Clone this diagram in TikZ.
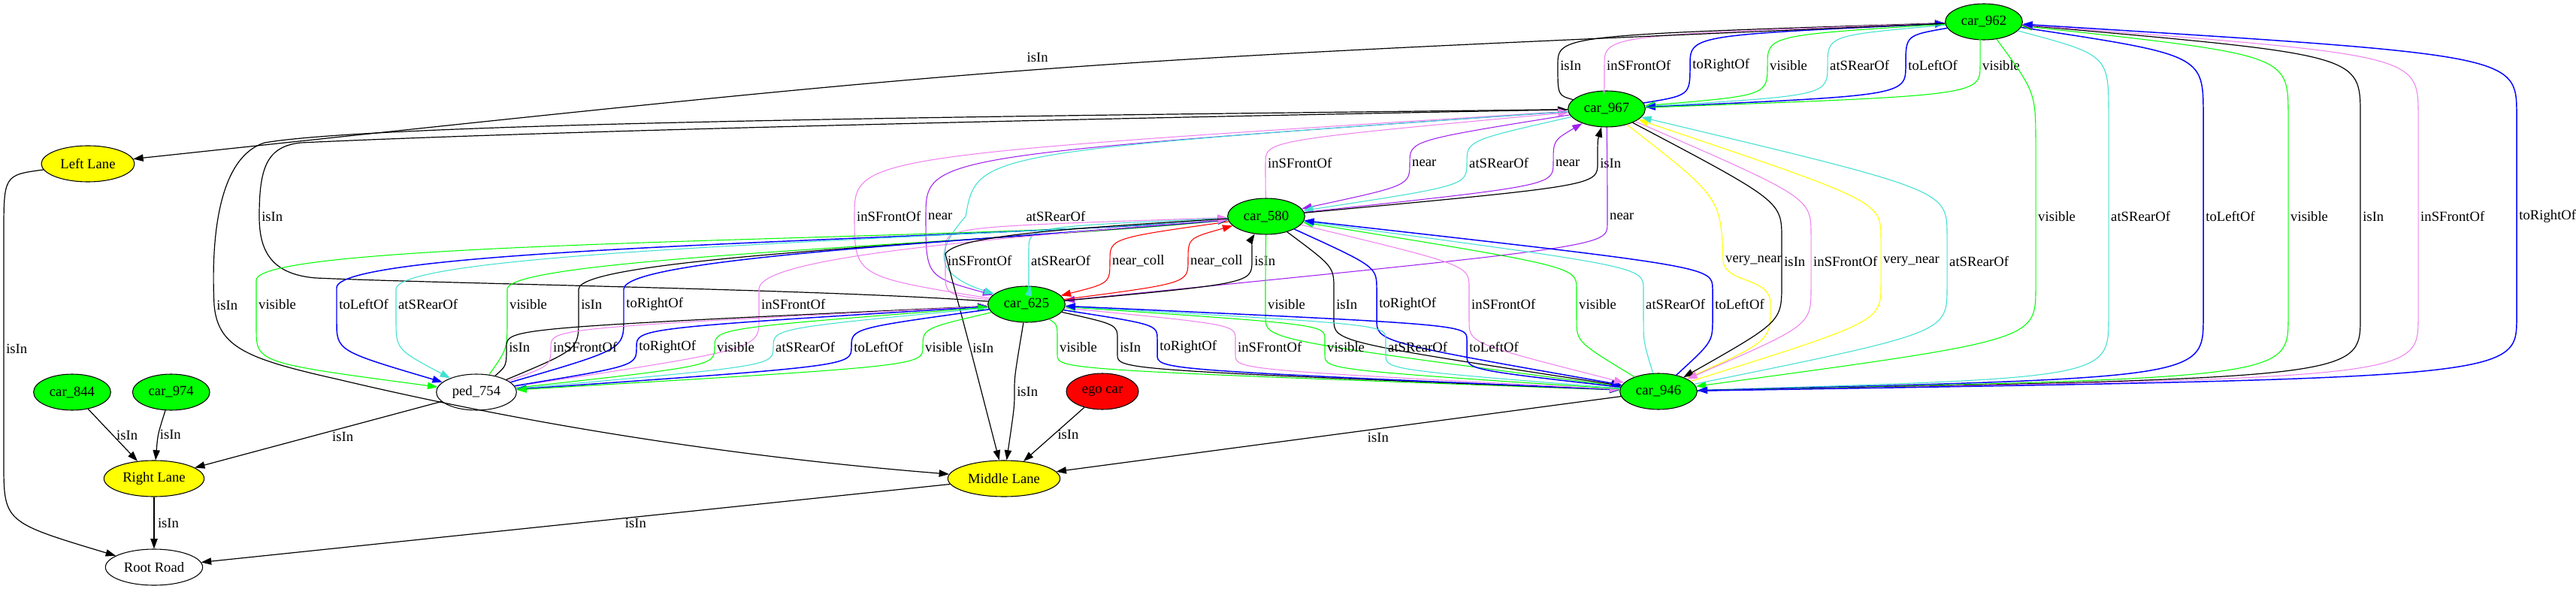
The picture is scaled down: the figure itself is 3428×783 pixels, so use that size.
\documentclass[tikz,border=0pt]{standalone}
\usepackage{fontspec}
\setmainfont{Liberation Serif}
\usetikzlibrary{arrows.meta,positioning,shapes.geometric}
\definecolor{gvgreen}{HTML}{00FF00}
\definecolor{gvyellow}{HTML}{FFFF00}
\definecolor{gvred}{HTML}{FF0000}
\definecolor{gvviolet}{HTML}{EE82EE}
\definecolor{gvblue}{HTML}{0000FF}
\definecolor{gvturq}{HTML}{40E0D0}
\definecolor{gvpurple}{HTML}{A020F0}
\tikzstyle{car}=[ellipse, draw=black, line width=.8pt, fill=gvgreen,
	minimum width=77pt, minimum height=36pt, inner sep=0pt]
\tikzstyle{lane}=[ellipse, draw=black, line width=.8pt, fill=gvyellow,
	minimum height=36pt, inner sep=0pt]
\tikzstyle{whitenode}=[ellipse, draw=black, line width=.8pt, fill=white,
	minimum height=36pt, inner sep=0pt]
\tikzstyle{lbl}=[anchor=west, inner sep=2pt]
\tikzstyle{relIsIn}=[draw=black, line width=.9pt]
\tikzstyle{relVisible}=[draw=gvgreen, line width=.8pt]
\tikzstyle{relFront}=[draw=gvviolet, line width=.8pt]
\tikzstyle{relRear}=[draw=gvturq, line width=.8pt]
\tikzstyle{relRight}=[draw=gvblue, line width=1.1pt]
\tikzstyle{relLeft}=[draw=gvblue, line width=1.1pt]
\tikzstyle{relNear}=[draw=gvpurple, line width=.8pt]
\tikzstyle{relVeryNear}=[draw=gvyellow, line width=.8pt]
\tikzstyle{relNearColl}=[draw=gvred, line width=.8pt]
% edge: style, from, x of label column, y in, y out, bend, to, label
\newcommand{\relEdge}[8]{%
	\draw[->,#1] (#2) .. controls (#3,{#4+(#6)}) .. (#3,#4)
		-- node[lbl]{#8} (#3,#5) .. controls (#3,{#5-(#6)}) .. (#7);}

\begin{document}
\begin{tikzpicture}[x=.75pt,y=.75pt,>={Triangle[length=10pt,width=7pt]},
		font=\fontsize{14}{17}\selectfont]
	\useasboundingbox (0,0) rectangle (3428,783);
	% nodes
	\node[car] (c962) at (2640,754) {car\_962};
	\node[car] (c967) at (2138,638) {car\_967};
	\node[car] (c580) at (1685,495) {car\_580};
	\node[car] (c625) at (1366,378) {car\_625};
	\node[car] (c946) at (2207,262) {car\_946};
	\node[car] (c844) at (96,261) {car\_844};
	\node[car, right=21pt of c844] (c974) {car\_974};
	\node[whitenode, minimum width=80pt] (ped) at (634,261) {ped\_754};
	\node[car, fill=gvred, minimum width=72pt] (ego) at (1467,262) {ego car};
	\node[lane, minimum width=93pt] (LL) at (117,565) {Left Lane};
	\node[lane, minimum width=100pt] (RL) at (205,146) {Right Lane};
	\node[lane, minimum width=112pt] (ML) at (1336,146) {Middle Lane};
	\node[whitenode, minimum width=97pt] (RR) at (205,28) {Root Road};

	% car_962 <-> car_967
	\relEdge{relIsIn}{c967}{2073}{696}{696}{-40}{c962}{isIn}
	\relEdge{relFront}{c967}{2135}{696}{696}{-40}{c962}{inSFrontOf}
	\relEdge{relRight}{c967}{2249}{696}{696}{-40}{c962}{toRightOf}
	\relEdge{relVisible}{c962}{2352}{696}{696}{40}{c967}{visible}
	\relEdge{relRear}{c962}{2432}{696}{696}{40}{c967}{atSRearOf}
	\relEdge{relLeft}{c962}{2536}{696}{696}{40}{c967}{toLeftOf}
	\relEdge{relVisible}{c967}{2635}{696}{696}{-40}{c962}{visible}
	\draw[->,relIsIn] (c962) .. controls (1380,700) .. (LL) node[pos=.5,above=4pt]{isIn};

	% car_962 <-> car_946
	\relEdge{relVisible}{c962}{2709}{590}{400}{70}{c946}{visible}
	\relEdge{relRear}{c962}{2806}{630}{360}{80}{c946}{atSRearOf}
	\relEdge{relLeft}{c962}{2932}{630}{360}{80}{c946}{toLeftOf}
	\relEdge{relVisible}{c946}{3045}{360}{630}{-80}{c962}{visible}
	\relEdge{relIsIn}{c946}{3141}{360}{630}{-80}{c962}{isIn}
	\relEdge{relFront}{c946}{3218}{360}{630}{-80}{c962}{inSFrontOf}
	\relEdge{relRight}{c946}{3349}{360}{630}{-80}{c962}{toRightOf}

	% long ones round the left side
	\draw[->,relIsIn] (c967) .. controls (1500,630) and (520,622) .. (352,593)
		.. controls (295,575) and (280,480) .. (285,377) node[lbl]{isIn}
		.. controls (290,320) and (330,305) .. (450,278)
		.. controls (800,195) and (1100,165) .. (ML);
	\draw[->,relIsIn] (c625) .. controls (1100,398) and (600,405) .. (420,413)
		.. controls (360,418) and (345,450) .. (345,495) node[lbl]{isIn}
		.. controls (345,560) and (355,588) .. (400,593)
		.. controls (800,612) and (1700,630) .. (c967);

	% car_967 <-> car_580
	\relEdge{relFront}{c580}{1684}{566}{566}{-30}{c967}{inSFrontOf}
	\relEdge{relNear}{c967}{1876}{566}{566}{30}{c580}{near}
	\relEdge{relRear}{c967}{1952}{566}{566}{30}{c580}{atSRearOf}
	\relEdge{relNear}{c580}{2067}{566}{566}{-30}{c967}{near}
	\relEdge{relIsIn}{c580}{2126}{566}{566}{-30}{c967}{isIn}

	% car_967 <-> car_625
	\relEdge{relFront}{c625}{1137}{495}{495}{-80}{c967}{inSFrontOf}
	\relEdge{relNear}{c967}{1232}{495}{495}{80}{c625}{near}
	\draw[->,relRear] (c967) .. controls (1300,580) .. (1285,495)
		node[lbl,xshift=58pt]{atSRearOf}
		.. controls (1250,455) and (1235,420) .. (c625);
	\relEdge{relNear}{c967}{2139}{505}{485}{30}{c625}{near}

	% car_967 <-> car_946
	\draw[->,relVeryNear] (c967) .. controls (2290,520) .. (2293,436) node[lbl]{very\_near}
		.. controls (2296,405) and (2355,415) .. (2356,380) .. controls (2357,330) .. (c946);
	\relEdge{relIsIn}{c967}{2371}{465}{405}{50}{c946}{isIn}
	\relEdge{relFront}{c967}{2410}{470}{400}{50}{c946}{inSFrontOf}
	\relEdge{relVeryNear}{c946}{2503}{405}{465}{-50}{c967}{very\_near}
	\relEdge{relRear}{c946}{2591}{400}{470}{-60}{c967}{atSRearOf}

	% car_580 <-> car_625
	\relEdge{relFront}{c625}{1258}{421}{451}{-30}{c580}{inSFrontOf}
	\relEdge{relRear}{c580}{1369}{451}{421}{30}{c625}{atSRearOf}
	\relEdge{relNearColl}{c580}{1477}{436}{436}{30}{c625}{near\_coll}
	\relEdge{relNearColl}{c625}{1581}{436}{436}{-30}{c580}{near\_coll}
	\relEdge{relIsIn}{c625}{1666}{436}{436}{-30}{c580}{isIn}

	% car_580 <-> car_946
	\relEdge{relVisible}{c580}{1684}{395}{361}{30}{c946}{visible}
	\relEdge{relIsIn}{c580}{1775}{398}{358}{30}{c946}{isIn}
	\relEdge{relRight}{c580}{1832}{398}{358}{30}{c946}{toRightOf}
	\relEdge{relFront}{c580}{1955}{400}{356}{30}{c946}{inSFrontOf}
	\relEdge{relVisible}{c946}{2098}{358}{398}{-30}{c580}{visible}
	\relEdge{relRear}{c946}{2187}{358}{398}{-30}{c580}{atSRearOf}
	\relEdge{relLeft}{c946}{2279}{358}{398}{-30}{c580}{toLeftOf}

	% car_580 <-> ped_754
	\draw[->,relVisible] (c580) .. controls (1300,462) and (341,465) .. (341,410)
		-- node[lbl]{visible} (341,346) .. controls (341,300) .. (ped);
	\draw[->,relLeft] (c580) .. controls (1300,464) and (448,455) .. (448,400)
		-- node[lbl]{toLeftOf} (448,356) .. controls (448,316) .. (ped);
	\draw[->,relRear] (c580) .. controls (1300,466) and (527,450) .. (527,398)
		-- node[lbl]{atSRearOf} (527,358) .. controls (527,318) .. (ped);
	\draw[->,relVisible] (ped) .. controls (675,318) .. (675,358)
		-- node[lbl]{visible} (675,398) .. controls (675,440) and (1300,458) .. (c580);
	\draw[->,relIsIn] (ped) .. controls (770,318) .. (770,358)
		-- node[lbl]{isIn} (770,398) .. controls (770,440) and (1300,460) .. (c580);
	\draw[->,relRight] (ped) .. controls (830,318) .. (830,358)
		-- node[lbl]{toRightOf} (830,398) .. controls (830,440) and (1300,462) .. (c580);
	\draw[->,relFront] (ped) .. controls (1010,318) .. (1010,358)
		-- node[lbl]{inSFrontOf} (1010,398) .. controls (1010,440) and (1300,464) .. (c580);
	\draw[->,relIsIn] (c580) .. controls (1400,478) and (1272,468) .. (1258,445)
		-- (1291,320) node[lbl]{isIn} -- (ML);

	% ped_754 <-> car_625
	\relEdge{relIsIn}{ped}{674}{321}{321}{-25}{c625}{isIn}
	\relEdge{relFront}{ped}{733}{321}{321}{-25}{c625}{inSFrontOf}
	\relEdge{relRight}{ped}{847}{321}{321}{-25}{c625}{toRightOf}
	\relEdge{relVisible}{ped}{951}{321}{321}{-25}{c625}{visible}
	\relEdge{relRear}{c625}{1029}{321}{321}{25}{ped}{atSRearOf}
	\relEdge{relLeft}{c625}{1133}{321}{321}{25}{ped}{toLeftOf}
	\relEdge{relVisible}{c625}{1228}{321}{321}{25}{ped}{visible}

	% car_625 <-> car_946
	\relEdge{relIsIn}{c625}{1350}{262}{262}{20}{ML}{isIn}
	\relEdge{relVisible}{c625}{1407}{331}{311}{20}{c946}{visible}
	\relEdge{relIsIn}{c625}{1487}{331}{311}{20}{c946}{isIn}
	\relEdge{relRight}{c625}{1540}{331}{311}{20}{c946}{toRightOf}
	\relEdge{relFront}{c625}{1644}{331}{311}{20}{c946}{inSFrontOf}
	\relEdge{relVisible}{c946}{1763}{311}{331}{-20}{c625}{visible}
	\relEdge{relRear}{c946}{1844}{311}{331}{-20}{c625}{atSRearOf}
	\relEdge{relLeft}{c946}{1952}{311}{331}{-20}{c625}{toLeftOf}

	% lanes and road
	\draw[->,relIsIn] (ped) -- (RL) node[pos=.4,below]{isIn};
	\draw[->,relIsIn] (c844) -- (RL) node[midway,right]{isIn};
	\draw[->,relIsIn] (c974) .. controls (210,205) .. (RL) node[midway,right,inner sep=1pt]{isIn};
	\draw[->,relIsIn] (ego) -- (ML) node[midway,right]{isIn};
	\draw[->,relIsIn] (c946) -- (ML) node[pos=.43,below]{isIn};
	\draw[->,relIsIn] (RL) -- (RR) node[midway,right]{isIn};
	\draw[->,relIsIn] (ML) -- (RR) node[pos=.42,below,inner sep=1pt]{isIn};
	\relEdge{relIsIn}{LL}{5}{470}{168}{80}{RR}{isIn}
\end{tikzpicture}
\end{document}
